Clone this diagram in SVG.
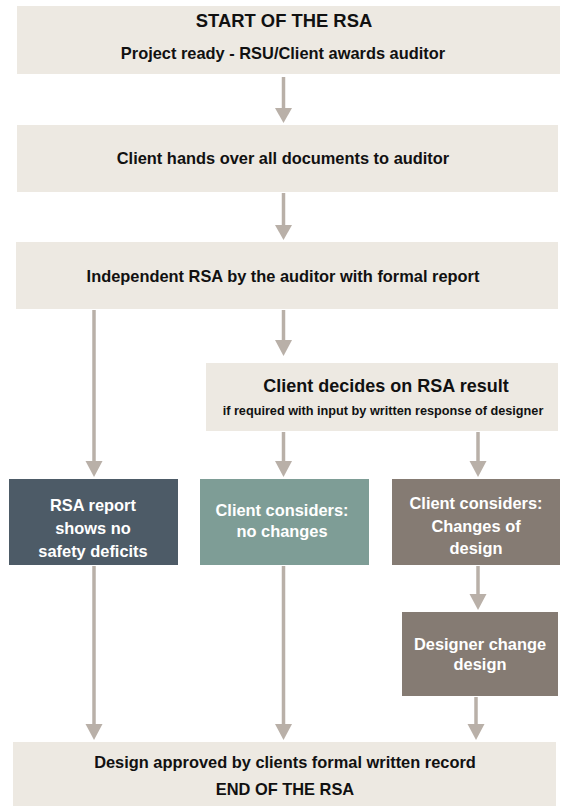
<svg xmlns="http://www.w3.org/2000/svg" width="568" height="806" viewBox="0 0 568 806">
  <style>
    .beige { fill: #ede9e2; }
    .slate { fill: #4d5b67; }
    .teal { fill: #7e9d96; }
    .taupe { fill: #857b73; }
    text { font-family: "Liberation Sans", Arial, sans-serif; font-weight: bold; text-anchor: middle; }
    .dark { fill: #111111; font-size: 16.4px; }
    .dark.title { font-size: 18.4px; }
    .dark.head { font-size: 18px; }
    .dark.note { font-size: 12.7px; }
    .light { fill: #ffffff; font-size: 16.4px; }
    .conn line { stroke: #b9b0a8; stroke-width: 3.5; }
    .conn polygon { fill: #b9b0a8; }
  </style>
  <rect width="568" height="806" fill="#ffffff"/>

  <g id="start">
    <rect class="beige" x="17" y="6" width="543" height="68"/>
    <text class="dark title" x="284" y="26.5">START OF THE RSA</text>
    <text class="dark" x="283" y="59">Project ready - RSU/Client awards auditor</text>
  </g>

  <g id="handover">
    <rect class="beige" x="17" y="125" width="541" height="67"/>
    <text class="dark" x="283" y="164">Client hands over all documents to auditor</text>
  </g>

  <g id="audit">
    <rect class="beige" x="16" y="242" width="542" height="67"/>
    <text class="dark" x="283" y="282">Independent RSA by the auditor with formal report</text>
  </g>

  <g id="decision">
    <rect class="beige" x="206" y="363" width="352" height="68"/>
    <text class="dark head" x="386" y="391.5">Client decides on RSA result</text>
    <text class="dark note" x="383" y="414.5">if required with input by written response of designer</text>
  </g>

  <g id="no-deficits">
    <rect class="slate" x="9" y="479" width="169" height="86"/>
    <text class="light" x="93" y="511">RSA report</text>
    <text class="light" x="93" y="534">shows no</text>
    <text class="light" x="93" y="557">safety deficits</text>
  </g>

  <g id="no-changes">
    <rect class="teal" x="200" y="479" width="169" height="86"/>
    <text class="light" x="282" y="516">Client considers:</text>
    <text class="light" x="282" y="537">no changes</text>
  </g>

  <g id="changes">
    <rect class="taupe" x="392" y="479" width="168" height="86"/>
    <text class="light" x="476" y="509">Client considers:</text>
    <text class="light" x="476" y="532">Changes of</text>
    <text class="light" x="476" y="554">design</text>
  </g>

  <g id="redesign">
    <rect class="taupe" x="402" y="612" width="156" height="84"/>
    <text class="light" x="480" y="650">Designer change</text>
    <text class="light" x="480" y="670">design</text>
  </g>

  <g id="end">
    <rect class="beige" x="13" y="742" width="543" height="64"/>
    <text class="dark" x="285" y="768">Design approved by clients formal written record</text>
    <text class="dark" x="285" y="795">END OF THE RSA</text>
  </g>

  <g id="connectors" class="conn">
    <line x1="283.5" y1="77" x2="283.5" y2="110"/>
    <polygon points="275,108 292,108 283.5,123"/>

    <line x1="283.5" y1="193" x2="283.5" y2="227"/>
    <polygon points="275,225 292,225 283.5,240"/>

    <line x1="283.5" y1="310" x2="283.5" y2="342"/>
    <polygon points="275,340 292,340 283.5,356"/>

    <line x1="94" y1="310" x2="94" y2="463"/>
    <polygon points="85.5,461 102.5,461 94,477"/>

    <line x1="283.5" y1="432" x2="283.5" y2="463"/>
    <polygon points="275,461 292,461 283.5,477"/>

    <line x1="478" y1="432" x2="478" y2="463"/>
    <polygon points="469.5,461 486.5,461 478,477"/>

    <line x1="283.5" y1="566" x2="283.5" y2="726"/>
    <polygon points="275,724 292,724 283.5,740"/>

    <line x1="94" y1="566" x2="94" y2="726"/>
    <polygon points="85.5,724 102.5,724 94,740"/>

    <line x1="478" y1="566" x2="478" y2="596"/>
    <polygon points="469.5,594 486.5,594 478,610"/>

    <line x1="476" y1="697" x2="476" y2="726"/>
    <polygon points="467.5,724 484.5,724 476,740"/>
  </g>
</svg>
